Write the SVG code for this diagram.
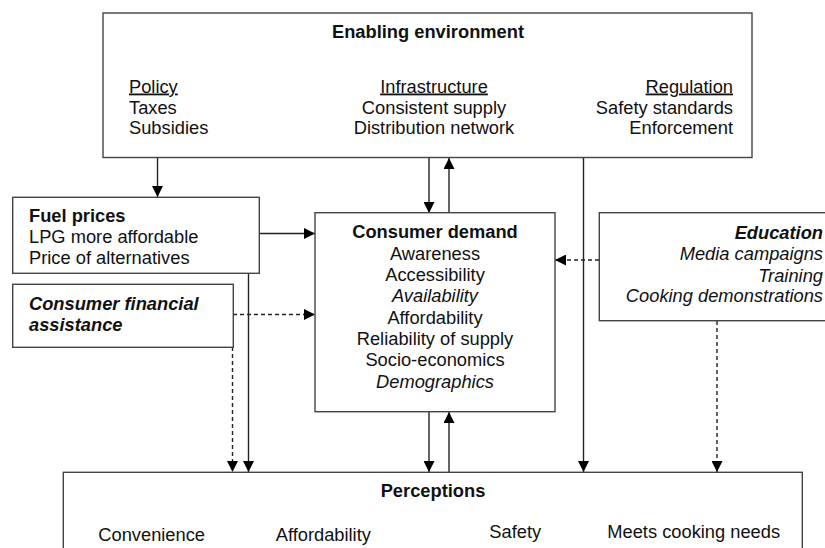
<svg xmlns="http://www.w3.org/2000/svg" width="825" height="548" viewBox="0 0 825 548">
<style>
text{font-family:"Liberation Sans",Arial,sans-serif;font-size:18.3px;fill:#111}
.b{font-weight:bold}
.i{font-style:italic}
.m{text-anchor:middle}
.e{text-anchor:end}
.u{text-decoration:underline}
.box{fill:#fff;stroke:#444;stroke-width:1.4}
.ln{fill:none;stroke:#222;stroke-width:1.4}
.d{stroke-dasharray:4 3}
</style>
<defs>
<marker id="ah" markerUnits="userSpaceOnUse" markerWidth="11" markerHeight="11" viewBox="0 0 11 11" refX="11" refY="5.5" orient="auto">
<path d="M0,0 L11,5.5 L0,11 z" fill="#000"/>
</marker>
</defs>
<g id="connectors">
<line class="ln" x1="157.5" y1="158" x2="157.5" y2="197" marker-end="url(#ah)"/>
<line class="ln" x1="429" y1="158" x2="429" y2="213" marker-end="url(#ah)"/>
<line class="ln" x1="449" y1="213" x2="449" y2="158" marker-end="url(#ah)"/>
<line class="ln" x1="583.5" y1="158" x2="583.5" y2="472" marker-end="url(#ah)"/>
<line class="ln" x1="259" y1="233.5" x2="315" y2="233.5" marker-end="url(#ah)"/>
<line class="ln d" x1="233" y1="314.5" x2="315" y2="314.5" marker-end="url(#ah)"/>
<line class="ln d" x1="599" y1="260" x2="555" y2="260" marker-end="url(#ah)"/>
<line class="ln d" x1="232.5" y1="347" x2="232.5" y2="472" marker-end="url(#ah)"/>
<line class="ln" x1="248.5" y1="273" x2="248.5" y2="472" marker-end="url(#ah)"/>
<line class="ln" x1="429" y1="412" x2="429" y2="472" marker-end="url(#ah)"/>
<line class="ln" x1="449" y1="472" x2="449" y2="412" marker-end="url(#ah)"/>
<line class="ln d" x1="717" y1="321" x2="717" y2="472" marker-end="url(#ah)"/>
</g>
<g id="enabling">
<rect class="box" x="103" y="13" width="649" height="144.5"/>
<text class="b m" x="428" y="38">Enabling environment</text>
<text class="u" x="129" y="92.5">Policy</text>
<text x="129" y="113.5">Taxes</text>
<text x="129" y="134">Subsidies</text>
<text class="m u" x="434" y="92.5">Infrastructure</text>
<text class="m" x="434" y="113.5">Consistent supply</text>
<text class="m" x="434" y="134">Distribution network</text>
<text class="e u" x="733" y="92.5">Regulation</text>
<text class="e" x="733" y="113.5">Safety standards</text>
<text class="e" x="733" y="134">Enforcement</text>
</g>
<g id="fuel">
<rect class="box" x="12.7" y="197.3" width="246.6" height="76"/>
<text class="b" x="29" y="222">Fuel prices</text>
<text x="29" y="243">LPG more affordable</text>
<text x="29" y="264">Price of alternatives</text>
</g>
<g id="assistance">
<rect class="box" x="12.7" y="284.3" width="220.6" height="63"/>
<text class="b i" x="29" y="309.5">Consumer financial</text>
<text class="b i" x="29" y="330.5">assistance</text>
</g>
<g id="demand">
<rect class="box" x="315" y="212.7" width="240" height="199"/>
<text class="b m" x="435" y="237.5">Consumer demand</text>
<text class="m" x="435" y="259.5">Awareness</text>
<text class="m" x="435" y="281">Accessibility</text>
<text class="m i" x="435" y="302">Availability</text>
<text class="m" x="435" y="323.5">Affordability</text>
<text class="m" x="435" y="345">Reliability of supply</text>
<text class="m" x="435" y="366">Socio-economics</text>
<text class="m i" x="435" y="387.5">Demographics</text>
</g>
<g id="education">
<rect class="box" x="599.3" y="212.7" width="240" height="108"/>
<text class="b i e" x="823" y="238.5">Education</text>
<text class="i e" x="823" y="260">Media campaigns</text>
<text class="i e" x="823" y="281.5">Training</text>
<text class="i e" x="823" y="302">Cooking demonstrations</text>
</g>
<g id="perceptions">
<rect class="box" x="63.3" y="472.3" width="739" height="90"/>
<text class="b m" x="433" y="497">Perceptions</text>
<text x="98.3" y="540.5">Convenience</text>
<text x="275.7" y="541">Affordability</text>
<text x="489.3" y="537.5">Safety</text>
<text x="607.3" y="537.5">Meets cooking needs</text>
</g>
</svg>
